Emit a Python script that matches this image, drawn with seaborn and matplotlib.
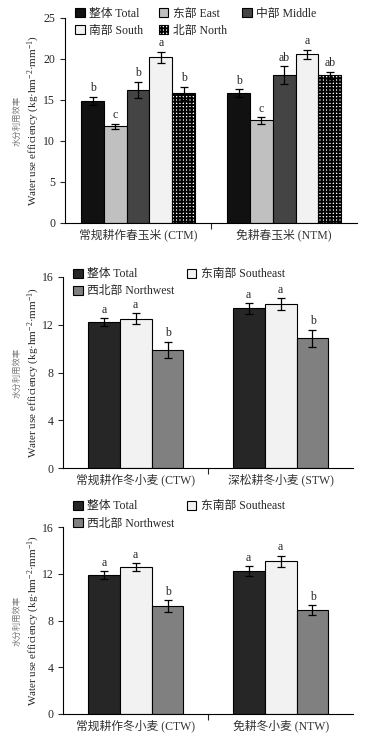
import numpy as np
import pandas as pd
import seaborn as sns
import matplotlib.pyplot as plt

# Panel 1: spring maize
maize_crops = ['常规耕作春玉米 (CTM)', '免耕春玉米 (NTM)']
maize_regions = ['整体 Total', '东部 East', '中部 Middle', '南部 South', '北部 North']
maize_wue = [[14.9, 11.8, 16.2, 20.2, 15.8],
             [15.8, 12.5, 18.0, 20.6, 18.0]]
maize_err = [[0.5, 0.3, 1.0, 0.7, 0.8],
             [0.5, 0.4, 1.1, 0.55, 0.45]]
maize_letters = [['b', 'c', 'b', 'a', 'b'],
                 ['b', 'c', 'ab', 'a', 'ab']]

# Panel 2: winter wheat (CTW vs STW)
wheat_regions = ['整体 Total', '东南部 Southeast', '西北部 Northwest']
wheat1_crops = ['常规耕作冬小麦 (CTW)', '深松耕冬小麦 (STW)']
wheat1_wue = [[12.2, 12.5, 9.9],
              [13.35, 13.7, 10.85]]
wheat1_err = [[0.35, 0.48, 0.67],
              [0.42, 0.5, 0.72]]
wheat1_letters = [['a', 'a', 'b'], ['a', 'a', 'b']]

# Panel 3: winter wheat (CTW vs NTW)
wheat2_crops = ['常规耕作冬小麦 (CTW)', '免耕冬小麦 (NTW)']
wheat2_wue = [[11.9, 12.6, 9.25],
              [12.25, 13.1, 8.9]]
wheat2_err = [[0.36, 0.34, 0.49],
              [0.4, 0.48, 0.46]]
wheat2_letters = [['a', 'a', 'b'], ['a', 'a', 'b']]

maize_colors = ['#111111', '#c0c0c0', '#444444', '#f2f2f2', '#ffffff']
wheat_colors = ['#262626', '#f2f2f2', '#808080']

sns.set_style('ticks')
plt.rcParams['font.family'] = ['Liberation Serif', 'Noto Sans CJK SC']
plt.rcParams['font.size'] = 8.5
plt.rcParams['mathtext.fontset'] = 'custom'
plt.rcParams['mathtext.rm'] = 'Liberation Serif'
plt.rcParams['mathtext.it'] = 'Liberation Serif:italic'
plt.rcParams['hatch.linewidth'] = 1.4

fig = plt.figure(figsize=(3.76, 7.48), dpi=100)

CHECKER = '+++++'


def to_frame(crops, regions, values):
    rows = []
    for i, c in enumerate(crops):
        for j, r in enumerate(regions):
            rows.append({'crop': c, 'region': r, 'wue': values[i][j]})
    return pd.DataFrame(rows)


def panel(rect, crops, regions, values, errs, letters, colors, width,
          ymax, ystep, leg_order, ncol, leg_anchor, colspace, hatch_idx=None):
    ax = fig.add_axes(rect)
    df = to_frame(crops, regions, values)
    sns.barplot(data=df, x='crop', y='wue', hue='region', hue_order=regions,
                palette=colors, edgecolor='black', linewidth=0.8,
                width=width, errorbar=None, ax=ax, saturation=1)
    bar_conts = list(ax.containers)
    for j, cont in enumerate(bar_conts):
        for i, bar in enumerate(cont):
            if j == hatch_idx:
                bar.set_hatch(CHECKER)
            xc = bar.get_x() + bar.get_width() / 2
            top = bar.get_height()
            ax.errorbar(xc, top, yerr=errs[i][j], fmt='none', ecolor='black',
                        elinewidth=0.9, capsize=3.2, capthick=0.9)
            ax.text(xc, top + errs[i][j] + ymax * 0.012, letters[i][j],
                    ha='center', va='bottom', fontsize=8.5)
    handles, labels = ax.get_legend_handles_labels()
    if hatch_idx is not None:
        handles[hatch_idx].set_hatch(CHECKER)
    ax.legend([handles[k] for k in leg_order], [labels[k] for k in leg_order],
              ncol=ncol, loc='upper left', bbox_to_anchor=leg_anchor,
              frameon=False, borderaxespad=0, borderpad=0,
              handlelength=0.8, handleheight=0.8, handletextpad=0.4,
              columnspacing=colspace, labelspacing=0.45, fontsize=8.5)
    ax.set_xlim(-0.5, 1.5)
    ax.set_ylim(0, ymax)
    ax.set_yticks(np.arange(0, ymax + 0.1, ystep))
    ax.set_xticks([0.5], minor=True)
    ax.tick_params(axis='x', which='major', length=0, pad=4, labelsize=8.5,
                   labelcolor='#333333')
    ax.tick_params(axis='x', which='minor', length=4, width=0.8, direction='out')
    ax.tick_params(axis='y', length=3.5, width=0.8, direction='out', labelsize=8.5)
    ax.set_xlabel('')
    ax.set_ylabel('')
    sns.despine(ax=ax)
    for s in ['left', 'bottom']:
        ax.spines[s].set_linewidth(0.8)
        ax.spines[s].set_color('black')
    # two-line y label
    yc = ax.get_position().y0 + ax.get_position().height / 2
    fig.text(0.047, yc, '水分利用效率', rotation=90, ha='center', va='center',
             fontsize=6, color='#777777')
    fig.text(0.09, yc, 'Water use efficiency (kg·hm$^{-2}$·mm$^{-1}$)',
             rotation=90, ha='center', va='center', fontsize=8)
    return ax


panel([0.173, 0.702, 0.777, 0.274], maize_crops, maize_regions, maize_wue,
      maize_err, maize_letters, maize_colors, 0.78, 25, 5,
      [0, 3, 1, 4, 2], 3, (0.035, 1.05), 1.3, hatch_idx=4)
panel([0.168, 0.374, 0.771, 0.256], wheat1_crops, wheat_regions, wheat1_wue,
      wheat1_err, wheat1_letters, wheat_colors, 0.66, 16, 4,
      [0, 2, 1], 2, (0.035, 1.045), 1.0)
panel([0.168, 0.0455, 0.771, 0.2496], wheat2_crops, wheat_regions, wheat2_wue,
      wheat2_err, wheat2_letters, wheat_colors, 0.66, 16, 4,
      [0, 2, 1], 2, (0.035, 1.145), 1.0)

fig.savefig('out.png', dpi=100)
